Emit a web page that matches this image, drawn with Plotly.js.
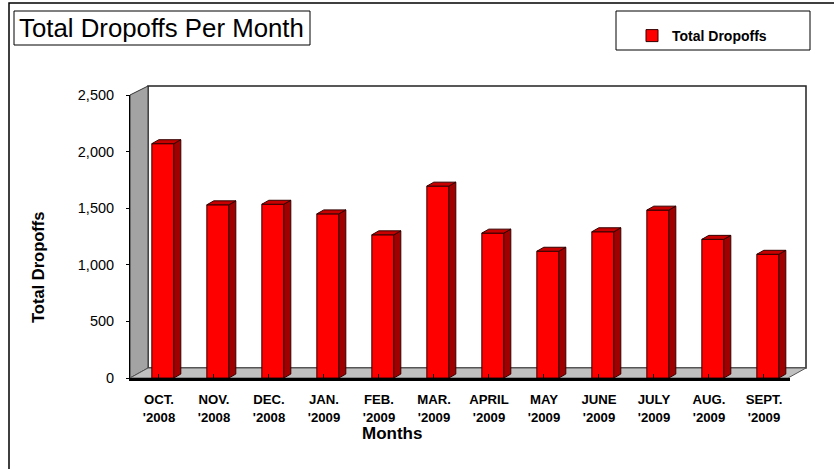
<!DOCTYPE html>
<html>
<head>
<meta charset="utf-8">
<script src="https://cdn.plot.ly/plotly-3.0.1.min.js"></script>
<style>html,body{margin:0;padding:0;background:#fff;}#chart{width:834px;height:469px;}</style>
</head>
<body>
<div id="chart"></div>
<script>
// ---- data ----
const monthLabels = ["OCT.<br>'2008","NOV.<br>'2008","DEC.<br>'2008","JAN.<br>'2009","FEB.<br>'2009","MAR.<br>'2009","APRIL<br>'2009","MAY<br>'2009","JUNE<br>'2009","JULY<br>'2009","AUG.<br>'2009","SEPT.<br>'2009"];
const dropoffs = [2070, 1530, 1535, 1450, 1265, 1695, 1280, 1120, 1292, 1483, 1225, 1093];
const seriesName = "Total Dropoffs";
const yTickVals = [0, 500, 1000, 1500, 2000, 2500];

// ---- geometry helpers (pixel -> paper) ----
const W = 834, H = 469;
const L = 130, R = 790, T = 95, B = 378;
const px = x => (x - L) / (R - L);
const py = y => (B - y) / (B - T);

const xIdx = dropoffs.map((_, i) => i);
const barOffset = -0.13, barWidth = 0.4;
const dx = 0.127, dy = 35;

const shapes = [];
// outer frame
shapes.push({type:'rect', xref:'paper', yref:'paper', x0:px(9), x1:px(845), y0:py(3), y1:py(480), line:{color:'#000', width:1.5}, fillcolor:'rgba(0,0,0,0)', layer:'below'});
// back wall
shapes.push({type:'rect', xref:'paper', yref:'paper', x0:px(148), x1:px(806), y0:py(86), y1:py(368), line:{color:'#222', width:1.5}, fillcolor:'#fff', layer:'below'});
// left wall
shapes.push({type:'path', xref:'paper', yref:'paper', path:`M${px(130)},${py(95)} L${px(148)},${py(86)} L${px(148)},${py(368)} L${px(130)},${py(378)} Z`, fillcolor:'#a3a3a3', line:{color:'#333', width:1}, layer:'below'});
// floor
shapes.push({type:'path', xref:'paper', yref:'paper', path:`M${px(130)},${py(378)} L${px(148)},${py(368)} L${px(806)},${py(368)} L${px(788)},${py(378)} Z`, fillcolor:'#c0c0c0', line:{color:'#555', width:1}, layer:'below'});
// title box
shapes.push({type:'rect', xref:'paper', yref:'paper', x0:px(14), x1:px(310), y0:py(11), y1:py(45), line:{color:'#000', width:1}, fillcolor:'#fff'});
// legend box
shapes.push({type:'rect', xref:'paper', yref:'paper', x0:px(616), x1:px(810), y0:py(11), y1:py(50), line:{color:'#000', width:1}, fillcolor:'#fff', layer:'below'});

// 3D side and top faces of bars, from the data
dropoffs.forEach((v, i) => {
  const xl = xIdx[i] + barOffset, xr = xl + barWidth;
  shapes.push({type:'path', xref:'x', yref:'y',
    path:`M${xr},0 L${xr+dx},${dy} L${xr+dx},${v+dy} L${xr},${v} Z`,
    fillcolor:'#a00000', line:{color:'#300', width:1}});
  shapes.push({type:'path', xref:'x', yref:'y',
    path:`M${xl},${v} L${xl+dx},${v+dy} L${xr+dx},${v+dy} L${xr},${v} Z`,
    fillcolor:'#c80000', line:{color:'#300', width:1}});
});

const trace = {
  type:'bar', x:xIdx, y:dropoffs, name:seriesName,
  offset:barOffset, width:barWidth,
  marker:{color:'#ff0000', line:{color:'#300', width:1}},
  hoverinfo:'y'
};

const layout = {
  width:W, height:H,
  margin:{l:L, r:W-R, t:T, b:H-B, pad:0},
  paper_bgcolor:'#fff', plot_bgcolor:'rgba(0,0,0,0)',
  font:{family:'Arial, "Liberation Sans", sans-serif', color:'#000'},
  title:{text:'Total Dropoffs Per Month', font:{size:25.8, color:'#000', family:'Arial, "Liberation Sans", sans-serif'},
    xref:'container', yref:'container', x:19/W, xanchor:'left', y:1-28/H, yanchor:'middle'},
  showlegend:true,
  legend:{x:px(632), y:py(20), xanchor:'left', yanchor:'top', bgcolor:'rgba(0,0,0,0)', borderwidth:0,
    font:{size:14, weight:'bold', color:'#000'}, itemwidth:30},
  xaxis:{range:[-0.527, 11.473], tickmode:'array', tickvals:xIdx, ticktext:monthLabels,
    showgrid:false, zeroline:false, showline:true, linecolor:'#000', linewidth:2.5,
    ticks:'inside', ticklen:4, tickcolor:'#000', ticklabelstandoff:8,
    tickfont:{size:13.2, weight:'bold', color:'#000'}, fixedrange:true},
  yaxis:{range:[0, 2500], tickmode:'array', tickvals:yTickVals, tickformat:',',
    showgrid:false, zeroline:false, showline:true, linecolor:'#000', linewidth:1,
    ticks:'outside', ticklen:3, tickcolor:'#000', ticklabelstandoff:9,
    tickfont:{size:14.5, color:'#000'}, fixedrange:true},
  annotations:[
    {text:'Total Dropoffs', xref:'paper', yref:'paper', x:px(38), y:py(267), textangle:-90, showarrow:false,
     xanchor:'center', yanchor:'middle', font:{size:16.5, weight:'bold', color:'#000'}},
    {text:'Months', xref:'paper', yref:'paper', x:px(392), y:py(433), showarrow:false,
     xanchor:'center', yanchor:'middle', font:{size:17, weight:'bold', color:'#000'}}
  ],
  shapes:shapes
};

Plotly.newPlot('chart', [trace], layout, {displayModeBar:false, staticPlot:true});
</script>
</body>
</html>
